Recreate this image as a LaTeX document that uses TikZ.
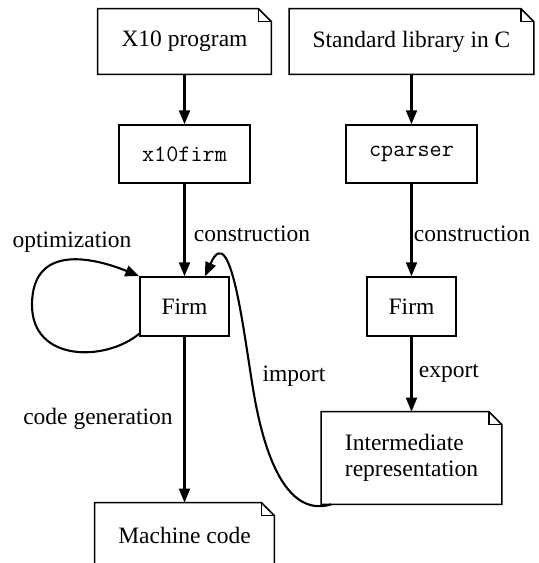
\documentclass[tikz,border=0pt]{standalone}
\usepackage{fontspec}
\setmainfont{Liberation Serif}
\usetikzlibrary{arrows.meta,calc}
\begin{document}
\begin{tikzpicture}[x=0.5pt,y=-0.5pt,
  every node/.style={font=\fontsize{11.75}{13}\selectfont},
  box/.style={draw, line width=0.75pt, rectangle, inner sep=0pt, align=center},
  note/.style={rectangle, inner sep=0pt},
  lbl/.style={inner sep=0pt},
  edge/.style={line width=1.05pt, -{Triangle[length=7pt,width=5.5pt]}},
  fold/.style={line width=0.75pt}
]
\clip (0,0) rectangle (538,563);
% document (note) nodes
\node[note, align=center, minimum width=86.5pt, minimum height=32.5pt] (x10) at (184.5,41.5) {X10 program};
\node[note, align=center, minimum width=122pt, minimum height=32.5pt] (std) at (411.5,41.5) {Standard library in C};
\node[note, align=left, minimum width=90pt, minimum height=46pt] (ir) at (411.5,458) {Intermediate\\representation};
\node[note, align=center, minimum width=89.5pt, minimum height=32.5pt] (mc) at (184.5,535.5) {Machine code};
\foreach \n in {x10,std,ir,mc} {
  \draw[fold] ([xshift=-6.5pt]\n.north east) -- (\n.north west) -- (\n.south west) -- (\n.south east) -- ([yshift=-6.5pt]\n.north east) -- cycle;
  \draw[fold] ([xshift=-6.5pt]\n.north east) |- ([yshift=-6.5pt]\n.north east);
}
% boxes
\node[box, minimum width=65.5pt, minimum height=29pt] (xf) at (184.5,154) {\texttt{x10firm}};
\node[box, minimum width=65.5pt, minimum height=29pt] (cp) at (411.5,154) {\texttt{cparser}};
\node[box, minimum width=44.5pt, minimum height=29.5pt] (fl) at (184.5,306.5) {Firm};
\node[box, minimum width=44.5pt, minimum height=29.5pt] (fr) at (411.5,306.5) {Firm};
% edges
\draw[edge] (x10) -- (xf);
\draw[edge] (std) -- (cp);
\draw[edge] (xf) -- (fl);
\draw[edge] (cp) -- (fr);
\draw[edge] (fr) -- (ir);
\draw[edge] (fl) -- (mc);
\draw[edge] ([yshift=1.5pt]fl.south west) .. controls (105,362) and (32,362) .. (32,305)
  .. controls (32,240) and (100,260) .. (fl.north west);
\draw[edge] ([xshift=5pt]ir.south west) .. controls (292,516) and (268,470) .. (255,400)
  .. controls (245,346) and (232,215) .. ($(fl.north)+(20.5,0)$);
% labels
\node[lbl] (l1) at (252,234) {construction};
\node[lbl] (l2) at (472,234) {construction};
\node[lbl] (l3) at (449,373) {export};
\node[lbl] (l4) at (98,419) {code generation};
\node[lbl] (l5) at (72,242) {optimization};
\node[lbl] (l6) at (294,376) {import};
\end{tikzpicture}
\end{document}
